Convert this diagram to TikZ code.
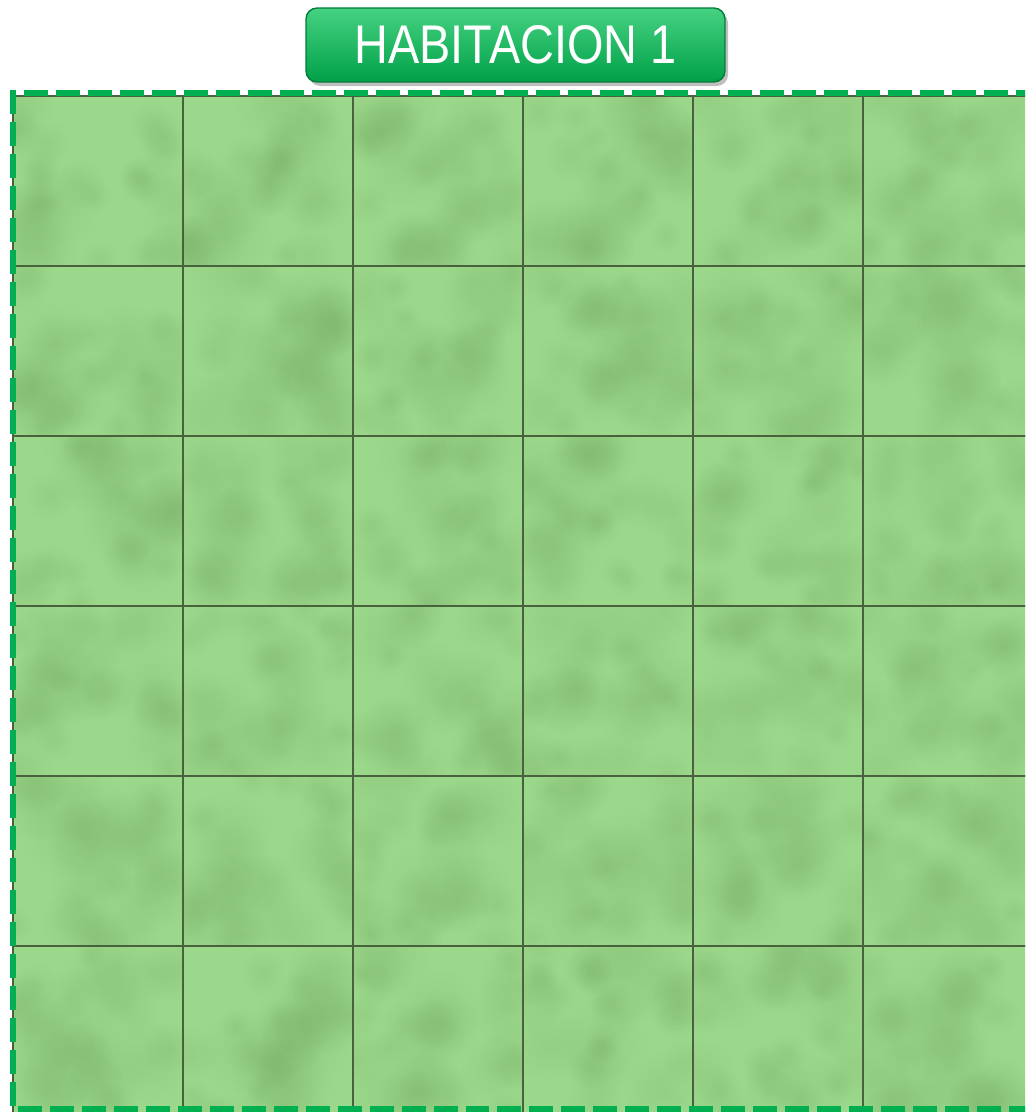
\documentclass[tikz,border=0pt]{standalone}
\usepackage{fontspec}
\usetikzlibrary{fadings}
\newfontfamily\titlefont{Liberation Sans}
\definecolor{tilegreen}{RGB}{156,216,140}
\definecolor{blotch}{RGB}{105,160,88}
\definecolor{groutline}{RGB}{72,98,62}
\definecolor{bordergreen}{RGB}{0,176,80}
\definecolor{titletop}{RGB}{70,210,130}
\definecolor{titlebottom}{RGB}{0,160,72}
\definecolor{titleedge}{RGB}{0,125,58}

\tikzfading[name=softblob, inner color=transparent!0, outer color=transparent!100]

\tikzset{
  tile/.style={fill=tilegreen},
  grout/.style={draw=groutline, line width=1.1pt},
  mottle/.style={fill=blotch, opacity=0.16, path fading=softblob},
  roomborder/.style={draw=bordergreen, line width=3.8pt, dash pattern=on 0.48cm off 0.16cm},
  titlebox/.style={rounded corners=0.22cm, top color=titletop, bottom color=titlebottom,
    draw=titleedge, line width=0.8pt, text=white, minimum width=8.38cm,
    minimum height=1.48cm, font=\titlefont\fontsize{31}{31}\selectfont}
}

\begin{document}
\begin{tikzpicture}[x=0.02cm, y=-0.02cm]
  \useasboundingbox (0,0) rectangle (1025,1112);
  \clip (0,0) rectangle (1025,1112);
  \pgfmathsetseed{7}

  % floor tiles
  \foreach \i in {0,...,5} {
    \foreach \j in {0,...,5} {
      \pgfmathsetmacro{\tx}{13+170*\i}
      \pgfmathsetmacro{\ty}{96+170*\j}
      \begin{scope}
        \clip (\tx,\ty) rectangle ++(170,170);
        \fill[tile] (\tx,\ty) rectangle ++(170,170);
        \foreach \k in {1,...,26}
          \fill[mottle] ({\tx+170*rnd},{\ty+170*rnd}) circle [radius={(0.3+0.6*rnd)*1cm}];
      \end{scope}
      \draw[grout] (\tx,\ty) rectangle ++(170,170);
    }
  }

  % room border
  \draw[roomborder] (1040,93) -- (13,93) -- (13,1109) -- (1040,1109);

  % title
  \fill[black, opacity=0.25, rounded corners=0.22cm] (309,12) rectangle (728,86);
  \node[titlebox] (title) at (515.5,45) {\scalebox{0.86}[1]{HABITACION 1}};
\end{tikzpicture}
\end{document}
